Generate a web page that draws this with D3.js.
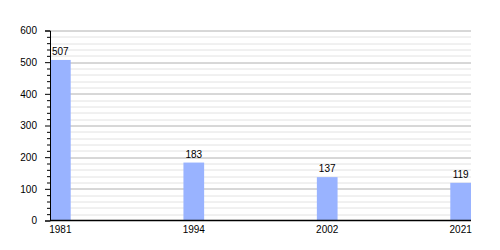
<!DOCTYPE html>
<html>
<head>
<meta charset="utf-8">
<script src="https://cdn.jsdelivr.net/npm/d3@7"></script>
<style>
  body { margin: 0; background: #fff; }
  text { font-family: "Liberation Sans", Arial, sans-serif; font-size: 10px; fill: #000; }
</style>
</head>
<body>
<div id="chart"></div>
<script>
// Data
const years = ["1981", "1994", "2002", "2021"];
const population = [507, 183, 137, 119];
const yTicks = [0, 100, 200, 300, 400, 500, 600];

const width = 500, height = 250;
const margin = { top: 30.5, right: 29, bottom: 29.5, left: 50 };
const plotW = width - margin.left - margin.right;
const plotH = height - margin.top - margin.bottom;
const barW = 20.7;

const svg = d3.select("#chart").append("svg")
    .attr("width", width)
    .attr("height", height);

const g = svg.append("g").attr("transform", `translate(${margin.left},${margin.top})`);

const x = d3.scalePoint().domain(years).range([0, plotW - barW]);
const y = d3.scaleLinear().domain([0, 600]).range([plotH, 0]);

// minor grid every 20
const minor = d3.range(20, 600, 20).filter(v => v % 100 !== 0);
g.selectAll(".minor").data(minor).enter().append("line")
    .attr("x1", 0).attr("x2", plotW)
    .attr("y1", d => Math.round(y(d)) + 0.5).attr("y2", d => Math.round(y(d)) + 0.5)
    .attr("stroke", "#e2e2e2");

// major grid
g.selectAll(".major").data(yTicks.slice(1)).enter().append("line")
    .attr("x1", 0).attr("x2", plotW)
    .attr("y1", d => Math.round(y(d)) + 0.5).attr("y2", d => Math.round(y(d)) + 0.5)
    .attr("stroke", "#b0b0b0");

// bars
g.selectAll(".bar").data(years).enter().append("rect")
    .attr("x", d => x(d))
    .attr("y", (d, i) => y(population[i]))
    .attr("width", barW)
    .attr("height", (d, i) => plotH - y(population[i]))
    .attr("fill", "#99b3ff");

// value labels
g.selectAll(".val").data(years).enter().append("text")
    .attr("x", d => x(d) + barW / 2)
    .attr("y", (d, i) => y(population[i]) - 5)
    .attr("text-anchor", "middle")
    .text((d, i) => population[i]);

// y axis
const yAxis = g.append("g")
    .call(d3.axisLeft(y).tickValues(yTicks).tickSize(5).tickPadding(8));
yAxis.select(".domain").attr("stroke", "#000");
yAxis.selectAll(".tick text").style("font-size", "10px");

// minor ticks on y axis
g.append("g")
    .call(d3.axisLeft(y).tickValues(minor).tickSize(3).tickFormat(""))
    .select(".domain").remove();

// x axis line
g.append("line")
    .attr("x1", 0).attr("x2", plotW)
    .attr("y1", plotH).attr("y2", plotH)
    .attr("stroke", "#000").attr("stroke-width", 1.5);

// x labels
g.selectAll(".xl").data(years).enter().append("text")
    .attr("x", d => x(d) + barW / 2)
    .attr("y", plotH + 12)
    .attr("text-anchor", "middle")
    .text(d => d);
</script>
</body>
</html>
